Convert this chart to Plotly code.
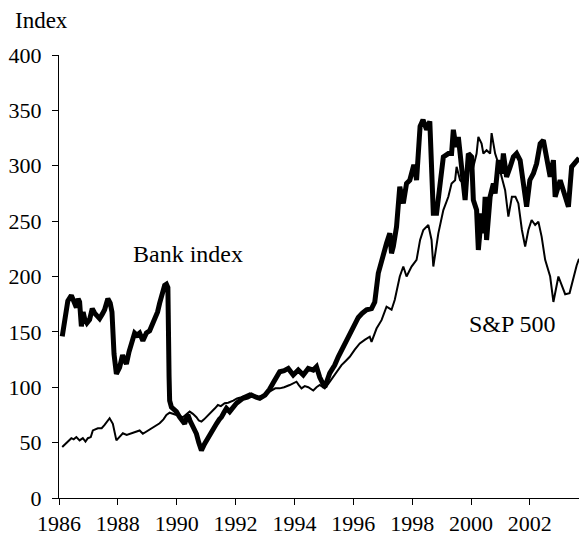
import plotly.graph_objects as go

bank_years = [1986.11,1986.2,1986.3,1986.42,1986.5,1986.59,1986.65,1986.7,1986.76,1986.82,1986.87,1986.95,
1987.04,1987.13,1987.21,1987.3,1987.38,1987.47,1987.55,1987.66,1987.74,1987.8,1987.87,1987.95,
1988.06,1988.16,1988.22,1988.29,1988.38,1988.46,1988.57,1988.65,1988.74,1988.85,1988.97,
1989.08,1989.17,1989.25,1989.35,1989.42,1989.5,1989.59,1989.65,1989.7,1989.74,1989.76,1989.82,1989.9,1989.99,
1990.1,1990.18,1990.27,1990.33,1990.38,1990.45,1990.5,1990.6,1990.67,1990.75,1990.84,1990.95,
1991.05,1991.18,1991.28,1991.35,1991.45,1991.52,1991.6,1991.69,1991.8,1991.9,
1992.03,1992.15,1992.25,1992.4,1992.54,1992.7,1992.82,
1993.0,1993.15,1993.3,1993.4,1993.5,1993.65,1993.79,1993.96,
1994.13,1994.3,1994.47,1994.64,1994.75,1994.86,
1995.03,1995.2,1995.37,1995.49,1995.66,1995.83,
1996.0,1996.17,1996.3,1996.45,1996.62,1996.73,1996.85,1996.96,
1997.07,1997.13,1997.24,1997.3,1997.36,1997.47,1997.58,1997.7,1997.81,1997.92,
1998.04,1998.09,1998.15,1998.2,1998.27,1998.37,1998.49,1998.6,1998.66,1998.72,1998.83,1998.94,
1999.06,1999.23,1999.34,1999.4,1999.49,1999.57,1999.63,1999.74,1999.8,1999.91,
2000.02,2000.08,2000.19,2000.25,2000.36,2000.42,2000.48,2000.53,2000.65,2000.76,2000.82,2000.93,
2001.04,2001.1,2001.21,2001.33,2001.44,2001.55,2001.67,2001.78,2001.89,
2002.0,2002.12,2002.23,2002.35,2002.46,2002.57,2002.69,2002.8,2002.86,
2003.03,2003.14,2003.31,2003.42,2003.59,2003.67]
bank_values = [146,160,178,183,178,172,180,177,155,168,162,158,
161,171,167,165,162,166,170,180,176,168,130,112,
118,129,125,121,132,140,149,147,149,142,149,
151,157,163,168,176,182,192,193,190,110,88,82,80,78,
73,70,67,72,75,70,67,63,58,50,43,49,
54,60,64,67,71,73,77,81,78,82,
85.6,88,90,91,93,91,90,
93,98,105,110,114,115,117,111,
115.5,111,117,115.5,118.5,109,
100,112.7,120,127.5,136.5,145.6,
153,163,166.7,170,171,177,203,215,
227,230,239,221,227,245,281,266,284,287,
299,299,287,302,335.5,341.5,332.5,340,299,257,257,284,
308,311,311,332.5,317,326,311,287,269,311,
308,269,260,224,257,239,272,233,272,284,275,305,
293,311,290,299,308,311,305,284,263,
287,293,302,320,323,305,290,305,272,
287,278,263,299,305,307]

sp_years = [1986.11,1986.25,1986.35,1986.42,1986.5,1986.59,1986.7,1986.81,1986.9,1986.98,
1987.08,1987.15,1987.32,1987.45,1987.55,1987.65,1987.72,1987.83,1987.9,1987.95,
1988.05,1988.17,1988.3,1988.46,1988.6,1988.74,1988.85,1988.97,
1989.1,1989.19,1989.3,1989.42,1989.55,1989.65,1989.76,1989.9,1989.99,
1990.1,1990.21,1990.33,1990.44,1990.55,1990.67,1990.75,1990.84,1990.93,
1991.01,1991.1,1991.18,1991.3,1991.4,1991.5,1991.63,1991.75,1991.92,
1992.05,1992.2,1992.35,1992.48,1992.65,1992.82,1992.95,
1993.1,1993.25,1993.35,1993.5,1993.65,1993.84,
1994.07,1994.15,1994.24,1994.35,1994.47,1994.64,1994.75,1994.86,
1995.03,1995.15,1995.31,1995.45,1995.6,1995.75,1995.88,
1996.05,1996.22,1996.4,1996.56,1996.62,1996.79,1996.96,
1997.13,1997.3,1997.41,1997.58,1997.7,1997.81,1997.98,
1998.15,1998.27,1998.38,1998.55,1998.66,1998.72,1998.89,
1999.06,1999.23,1999.34,1999.46,1999.51,1999.63,1999.74,1999.85,1999.96,
2000.08,2000.19,2000.25,2000.36,2000.42,2000.53,2000.65,2000.7,2000.82,2000.93,
2001.04,2001.16,2001.27,2001.39,2001.51,2001.61,2001.73,2001.84,2001.95,
2002.06,2002.18,2002.29,2002.4,2002.52,2002.69,2002.8,2002.97,
2003.1,2003.2,2003.35,2003.48,2003.59,2003.67]
sp_values = [46,49.5,52,54,53,55,52,54,51,54,
55,61,63,63,66,70,72,67,56,52,
55,58.5,57,58.5,60,61,58,60,
62,64,66,67.5,71,75,77,76,75,
74,73,76,78,76,73,70,69,71,
73,76,78,81,84,83,85.6,86,88,
90,91,93,94.5,92,90,93,
95,97,99,99,100,102,
105,102,99,101,100,97,100,102,
99,103,109,114,120,124,127.5,
134,139.6,143,145.6,141,153,160.6,
172.7,170,179,200,209,200,209,
215,233,242,246.5,233,209,239,
260,272,284,287,299,287,284,293,302,
299,311,326,320,311,314,311,329.5,311,302,
290,278,254,272,272,266,242,227,242,
251,246.5,249.5,236,215,200,177,200,
190,184,185,200,210,216]

x_tick_vals = [1986,1988,1990,1992,1994,1996,1998,2000,2002]
x_tick_text = ["1986","1988","1990","1992","1994","1996","1998","2000","2002"]
y_tick_vals = [0,50,100,150,200,250,300,350,400]

font_family = "Liberation Serif, Times New Roman, serif"

fig = go.Figure()
fig.add_trace(go.Scatter(x=sp_years, y=sp_values, mode="lines",
                         line=dict(color="black", width=2), name="S&P 500"))
fig.add_trace(go.Scatter(x=bank_years, y=bank_values, mode="lines",
                         line=dict(color="black", width=5), name="Bank index"))

fig.add_annotation(x=1990.37, y=220, text="Bank index", showarrow=False,
                   font=dict(size=24, color="black"), xanchor="center", yanchor="middle")
fig.add_annotation(x=2001.4, y=157, text="S&P 500", showarrow=False,
                   font=dict(size=24, color="black"), xanchor="center", yanchor="middle")
fig.add_annotation(x=-0.0885, y=1.079, xref="paper", yref="paper", text="Index",
                   showarrow=False, font=dict(size=23, color="black"),
                   xanchor="left", yanchor="middle")

fig.update_layout(
    width=582, height=542,
    margin=dict(l=59, r=3, t=55, b=44),
    paper_bgcolor="white", plot_bgcolor="white",
    showlegend=False,
    font=dict(family=font_family, size=22, color="black"),
)
fig.update_xaxes(range=[1986, 2003.67], tickvals=x_tick_vals, ticktext=x_tick_text,
                 ticks="outside", ticklen=6, tickcolor="black", showline=True,
                 linecolor="black", linewidth=1, showgrid=False, zeroline=False)
fig.update_yaxes(range=[0, 400], tickvals=y_tick_vals, ticklabelstandoff=6,
                 ticks="outside", ticklen=6, tickcolor="black", showline=True,
                 linecolor="black", linewidth=1, showgrid=False, zeroline=False)

fig.write_html("out.html", config={"displayModeBar": False},
               post_script="document.body.style.margin='0';")
